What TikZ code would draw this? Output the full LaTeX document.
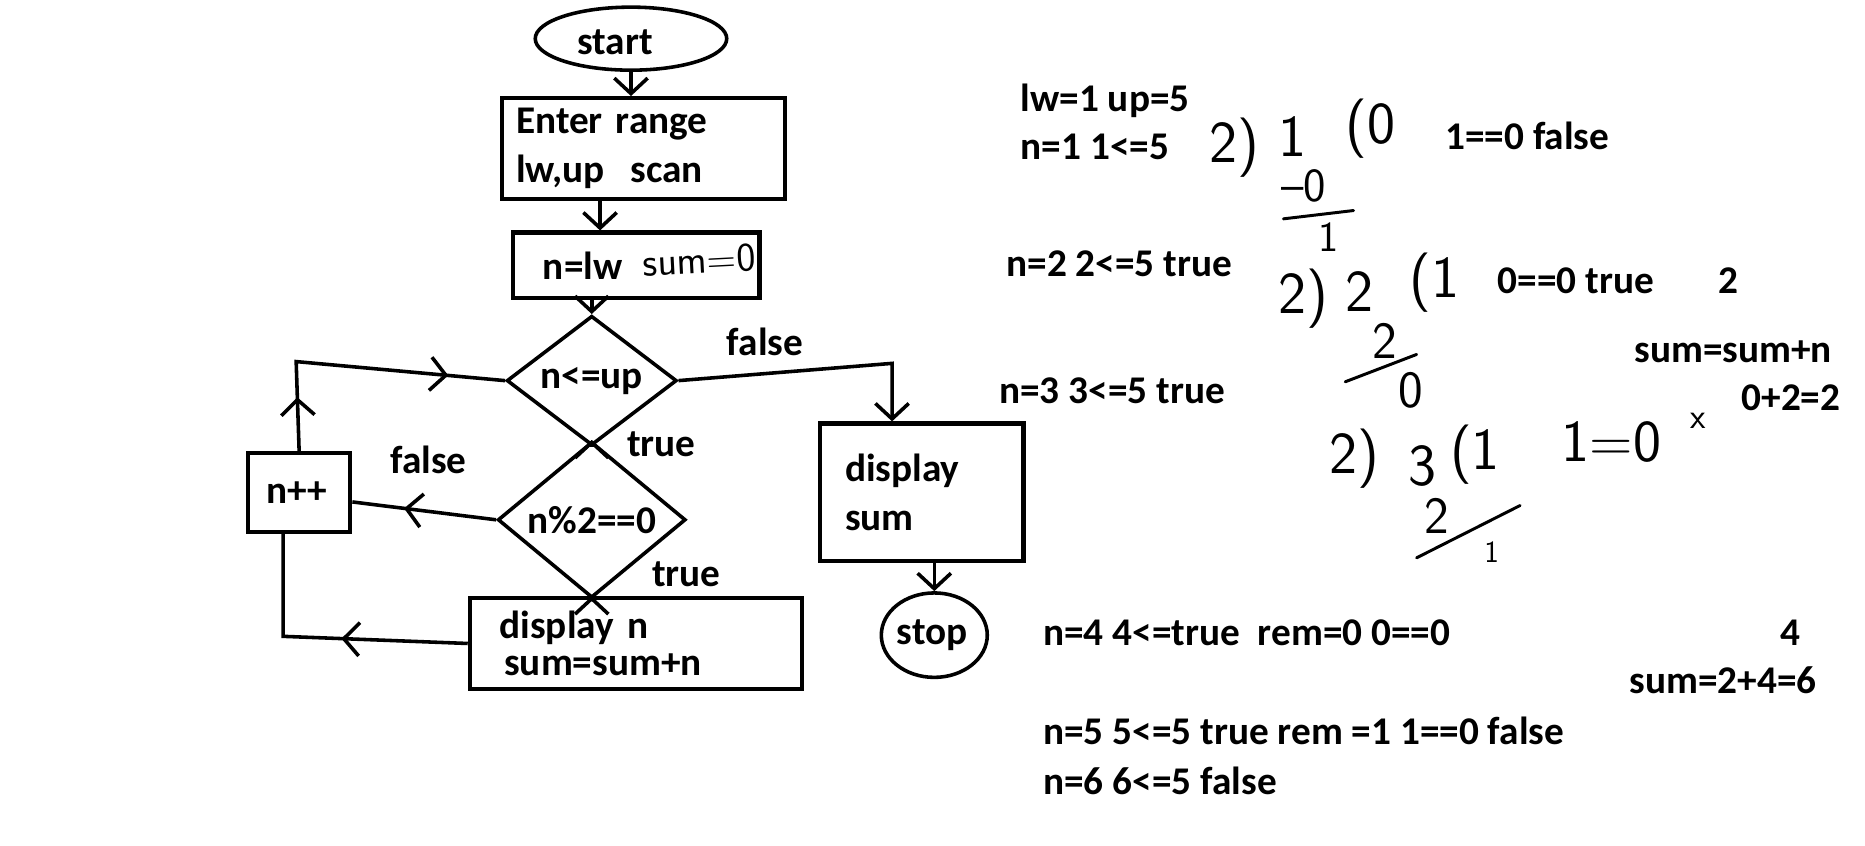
\documentclass[tikz,border=0pt]{standalone}
\usepackage{fontspec}
\setmainfont{Carlito}
\usetikzlibrary{shapes.geometric, arrows.meta, decorations.markings}

\tikzset{
  flowtip/.tip={Straight Barb[length=13pt, width=28pt]},
  txt/.style={font=\fontsize{33}{41}\selectfont\bfseries, inner sep=0pt},
  box/.style={txt, draw, line width=3.5pt, align=left},
  hand/.style={font=\fontsize{50}{50}\selectfont\sffamily, inner sep=0pt},
  handline/.style={line width=2.5pt, line cap=round},
  flow/.style={line width=3pt, -flowtip},
  midflow/.style={line width=3pt, postaction={decorate},
    decoration={markings, mark=at position #1 with {\arrow{flowtip}}}},
  twoflow/.style 2 args={line width=3pt, postaction={decorate},
    decoration={markings, mark=at position #1 with {\arrow{flowtip}},
      mark=at position #2 with {\arrow{flowtip}}}},
}

\begin{document}
\begin{tikzpicture}[x=1pt, y=-1pt]
  \useasboundingbox (0, 0) rectangle (1568, 711);

  % flowchart
  \node [txt, draw, ellipse, line width=3pt, minimum width=161pt, minimum height=53pt, text width=90pt, text height=27pt, align=left] (start) at (530.5, 32.5) {start};
  \node [box, minimum width=238pt, minimum height=85pt, text width=214pt, inner xsep=12pt] (enter) at (541, 125) {Enter range\\lw,up\ \ scan};
  \node [box, minimum width=207pt, minimum height=55pt, text width=157pt, inner xsep=25pt] (init) at (535, 223) {n=lw};
  \node [hand, font=\fontsize{34}{34}\selectfont\sffamily, rotate=3] (initsum) at (588, 219) {sum=0};
  \node [txt, draw, diamond, line width=3pt, minimum width=143pt, minimum height=94pt] (cond) at (497.5, 320) {n<=up};
  \node [txt, draw, diamond, line width=3pt, minimum width=158pt, minimum height=106pt] (even) at (497.5, 437) {n\%2==0};
  \node [box, font=\fontsize{33}{31}\selectfont\bfseries, minimum width=279pt, minimum height=76pt, text width=229pt, inner xsep=25pt] (dnum) at (534.5, 541) {display n\\\hspace*{4pt}sum=sum+n};
  \node [box, minimum width=86pt, minimum height=66pt, text width=55pt, inner xsep=15.5pt] (incr) at (251.5, 414) {n++};
  \node [box, minimum width=171pt, minimum height=116pt, text width=129pt, inner xsep=21pt] (dsum) at (775, 414) {display\\sum};
  \node [txt, draw, ellipse, line width=3pt, minimum width=85pt, minimum height=71pt, text width=63pt, align=left] (stop) at (785.5, 534) {stop};

  \coordinate (k1) at (504.5, 0);
  \coordinate (k2) at (750, 305.5);
  \coordinate (k3) at (249, 304);
  \coordinate (k4) at (238, 535);

  \draw [flow] (start.south) -- (start.south |- enter.north);
  \draw [flow] (k1 |- enter.south) -- (k1 |- init.north);
  \draw [flow] (cond.north |- init.south) -- (cond.north);
  \draw [flow] (cond.south) -- (even.north);
  \draw [flow] (even.south) -- (even.south |- dnum.north);
  \draw [flow] (cond.east) -- (k2) -- (k2 |- dsum.north);
  \draw [flow] (stop.north |- dsum.south) -- (stop.north);
  \draw [midflow=0.64] (even.west) -- ([yshift=-8pt]incr.east);
  \draw [twoflow={0.18}{0.81}] (incr.north) -- (k3) -- (cond.west);
  \draw [midflow=0.44] (dnum.west) -- (k4) -- (k4 |- incr.south);

  \node [txt, anchor=base west] (lfalse1) at (611, 298.5) {false};
  \node [txt, anchor=base west] (ltrue1) at (527, 384) {true};
  \node [txt, anchor=base west] (ltrue2) at (548, 492.7) {true};
  \node [txt, anchor=base west] (lfalse2) at (328, 397.8) {false};

  % trace
  \node [txt, anchor=base west] (t1) at (858, 94) {lw=1 up=5};
  \node [txt, anchor=base west] (t2) at (858, 134.5) {n=1 1<=5};
  \node [txt, anchor=base west] (t3) at (1215, 126) {1==0 false};
  \node [txt, anchor=base west] (t4) at (846, 232.6) {n=2 2<=5 true};
  \node [txt, anchor=base west] (t5) at (1259, 247) {0==0 true};
  \node [txt, anchor=base west] (t6) at (1445, 247) {2};
  \node [txt, anchor=base west] (t7) at (1374, 305) {sum=sum+n};
  \node [txt, anchor=base west] (t8) at (1464, 345) {0+2=2};
  \node [txt, anchor=base west] (t9) at (840, 339) {n=3 3<=5 true};
  \node [txt, anchor=base west] (t10) at (877, 543) {n=4 4<=true\ \ rem=0 0==0};
  \node [txt, anchor=base west] (t11) at (1497, 543) {4};
  \node [txt, anchor=base west] (t12) at (1370, 583) {sum=2+4=6};
  \node [txt, anchor=base west] (t13) at (877, 626) {n=5 5<=5 true rem =1 1==0 false};
  \node [txt, anchor=base west] (t14) at (877, 668) {n=6 6<=5 false};

  % long divisions
  \node [hand] (d1a) at (1038, 124) {2)};
  \node [hand] (d1b) at (1087, 115) {1};
  \node [hand] (d1c) at (1152, 108) {(0};
  \node [hand, font=\fontsize{40}{40}\selectfont\sffamily] (d1d) at (1096, 156) {--0};
  \draw [handline] (1079, 184) -- (1138, 177);
  \node [hand, font=\fontsize{36}{36}\selectfont\sffamily] (d1e) at (1117, 199) {1};

  \node [hand] (d2a) at (1096, 251) {2)};
  \node [hand] (d2b) at (1143, 245) {2};
  \node [hand] (d2c) at (1206, 238) {(1};
  \node [hand, font=\fontsize{44}{44}\selectfont\sffamily] (d2d) at (1164, 287) {2};
  \draw [handline] (1131, 321) -- (1191, 298);
  \node [hand, font=\fontsize{44}{44}\selectfont\sffamily] (d2e) at (1186, 328) {0};

  \node [hand] (d3a) at (1139, 386) {2)};
  \node [hand] (d3b) at (1196, 392) {3};
  \node [hand] (d3c) at (1240, 382) {(1};
  \node [hand] (d3d) at (1355, 372) {1=0};
  \node [hand, font=\fontsize{30}{30}\selectfont\sffamily] (d3x) at (1428, 354) {x};
  \node [hand, font=\fontsize{44}{44}\selectfont\sffamily] (d3e) at (1208, 434) {2};
  \draw [handline] (1191, 469) -- (1278, 425);
  \node [hand, font=\fontsize{26}{26}\selectfont\sffamily] (d3f) at (1254, 464) {1};
\end{tikzpicture}
\end{document}
